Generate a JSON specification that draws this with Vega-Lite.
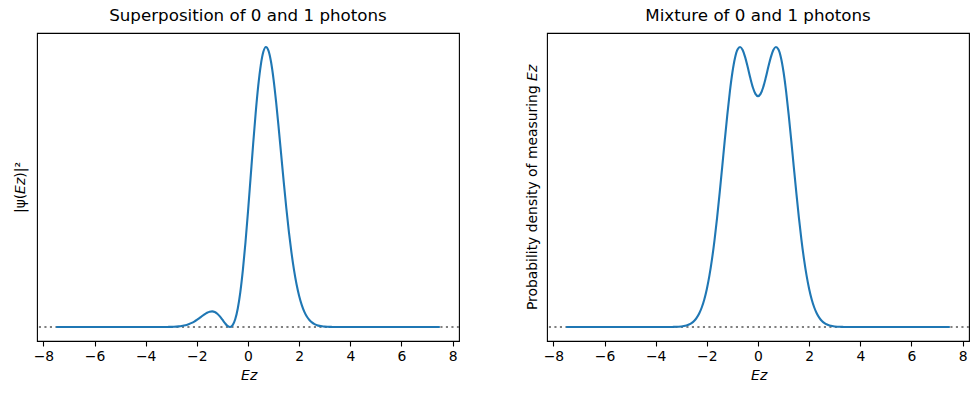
{
  "$schema": "https://vega.github.io/schema/vega-lite/v6.json",
  "background": "white",
  "padding": {"left": 12, "top": 7, "right": 5, "bottom": 8},
  "spacing": 63,
  "config": {
    "font": "DejaVu Sans",
    "view": {"stroke": "black", "strokeWidth": 1.1},
    "axis": {"grid": false, "domain": false, "labelFont": "DejaVu Sans", "labelFontSize": 13.9, "labelColor": "black", "titleFont": "DejaVu Sans", "titleFontSize": 13.9, "titleFontWeight": "normal", "titleColor": "black", "tickColor": "black", "tickSize": 5, "tickWidth": 1.1, "labelPadding": 3},
    "title": {"fontSize": 16.7, "fontWeight": "normal", "color": "black", "offset": 8, "font": "DejaVu Sans"}
  },
  "datasets": {
    "sup": [
      {"x": -7.5, "y": 0}, {"x": -7, "y": 0}, {"x": -6.5, "y": 0}, {"x": -6, "y": 0}, {"x": -5.5, "y": 0}, {"x": -5, "y": 0}, {"x": -4.5, "y": 0}, {"x": -4, "y": 0},
      {"x": -3.5, "y": 0.00008}, {"x": -3.4, "y": 0.00014}, {"x": -3.3, "y": 0.00025}, {"x": -3.2, "y": 0.00044}, {"x": -3.1, "y": 0.00077}, {"x": -3.0, "y": 0.00129},
      {"x": -2.9, "y": 0.00215}, {"x": -2.8, "y": 0.00345}, {"x": -2.7, "y": 0.00542}, {"x": -2.6, "y": 0.00831}, {"x": -2.5, "y": 0.01241}, {"x": -2.4, "y": 0.01806},
      {"x": -2.3, "y": 0.02559}, {"x": -2.2, "y": 0.03525}, {"x": -2.1, "y": 0.04716}, {"x": -2.0, "y": 0.06123}, {"x": -1.9, "y": 0.07699}, {"x": -1.8, "y": 0.09356},
      {"x": -1.7, "y": 0.10958}, {"x": -1.6, "y": 0.12326}, {"x": -1.5, "y": 0.13252}, {"x": -1.4, "y": 0.13525}, {"x": -1.3, "y": 0.12973}, {"x": -1.2, "y": 0.11512},
      {"x": -1.1, "y": 0.09206}, {"x": -1.0, "y": 0.06312}, {"x": -0.9, "y": 0.0331}, {"x": -0.8, "y": 0.0091}, {"x": -0.7, "y": 0.00006}, {"x": -0.6, "y": 0.01601},
      {"x": -0.5, "y": 0.06681}, {"x": -0.4, "y": 0.16074}, {"x": -0.3, "y": 0.30295}, {"x": -0.2, "y": 0.49415}, {"x": -0.1, "y": 0.72983}, {"x": 0, "y": 1},
      {"x": 0.1, "y": 1.28988}, {"x": 0.2, "y": 1.58115}, {"x": 0.3, "y": 1.85393}, {"x": 0.4, "y": 2.08893}, {"x": 0.5, "y": 2.2696}, {"x": 0.6, "y": 2.384},
      {"x": 0.7, "y": 2.42594}, {"x": 0.8, "y": 2.39535}, {"x": 0.9, "y": 2.29795}, {"x": 1.0, "y": 2.14416}, {"x": 1.1, "y": 1.9476}, {"x": 1.2, "y": 1.72344},
      {"x": 1.3, "y": 1.48667}, {"x": 1.4, "y": 1.25079}, {"x": 1.5, "y": 1.02686}, {"x": 1.6, "y": 0.82295}, {"x": 1.7, "y": 0.64403}, {"x": 1.8, "y": 0.49234},
      {"x": 1.9, "y": 0.36775}, {"x": 2.0, "y": 0.26846}, {"x": 2.1, "y": 0.19156}, {"x": 2.2, "y": 0.13365}, {"x": 2.3, "y": 0.09119}, {"x": 2.4, "y": 0.06084},
      {"x": 2.5, "y": 0.0397}, {"x": 2.6, "y": 0.02535}, {"x": 2.7, "y": 0.01583}, {"x": 2.8, "y": 0.00969}, {"x": 2.9, "y": 0.0058}, {"x": 3.0, "y": 0.00338},
      {"x": 3.1, "y": 0.00195}, {"x": 3.2, "y": 0.00109}, {"x": 3.3, "y": 0.00059}, {"x": 3.4, "y": 0.00032}, {"x": 3.5, "y": 0.00017},
      {"x": 4, "y": 0}, {"x": 4.5, "y": 0}, {"x": 5, "y": 0}, {"x": 5.5, "y": 0}, {"x": 6, "y": 0}, {"x": 6.5, "y": 0}, {"x": 7, "y": 0}, {"x": 7.5, "y": 0}
    ],
    "mix": [
      {"x": -7.5, "y": 0}, {"x": -7, "y": 0}, {"x": -6.5, "y": 0}, {"x": -6, "y": 0}, {"x": -5.5, "y": 0}, {"x": -5, "y": 0}, {"x": -4.5, "y": 0}, {"x": -4, "y": 0},
      {"x": -3.5, "y": 0.00012}, {"x": -3.4, "y": 0.00023}, {"x": -3.3, "y": 0.00042}, {"x": -3.2, "y": 0.00077}, {"x": -3.1, "y": 0.00136}, {"x": -3.0, "y": 0.00234},
      {"x": -2.9, "y": 0.00397}, {"x": -2.8, "y": 0.00657}, {"x": -2.7, "y": 0.01063}, {"x": -2.6, "y": 0.01683}, {"x": -2.5, "y": 0.02606}, {"x": -2.4, "y": 0.03945},
      {"x": -2.3, "y": 0.05839}, {"x": -2.2, "y": 0.08445}, {"x": -2.1, "y": 0.11936}, {"x": -2.0, "y": 0.16484}, {"x": -1.9, "y": 0.22237}, {"x": -1.8, "y": 0.29295},
      {"x": -1.7, "y": 0.37681}, {"x": -1.6, "y": 0.47311}, {"x": -1.5, "y": 0.57969}, {"x": -1.4, "y": 0.69302}, {"x": -1.3, "y": 0.8082}, {"x": -1.2, "y": 0.91928},
      {"x": -1.1, "y": 1.01983}, {"x": -1.0, "y": 1.10364}, {"x": -0.9, "y": 1.16553}, {"x": -0.8, "y": 1.20223}, {"x": -0.7, "y": 1.213}, {"x": -0.6, "y": 1.2},
      {"x": -0.5, "y": 1.1682}, {"x": -0.4, "y": 1.12483}, {"x": -0.3, "y": 1.07844}, {"x": -0.2, "y": 1.03765}, {"x": -0.1, "y": 1.00985}, {"x": 0, "y": 1},
      {"x": 0.1, "y": 1.00985}, {"x": 0.2, "y": 1.03765}, {"x": 0.3, "y": 1.07844}, {"x": 0.4, "y": 1.12483}, {"x": 0.5, "y": 1.1682}, {"x": 0.6, "y": 1.2},
      {"x": 0.7, "y": 1.213}, {"x": 0.8, "y": 1.20223}, {"x": 0.9, "y": 1.16553}, {"x": 1.0, "y": 1.10364}, {"x": 1.1, "y": 1.01983}, {"x": 1.2, "y": 0.91928},
      {"x": 1.3, "y": 0.8082}, {"x": 1.4, "y": 0.69302}, {"x": 1.5, "y": 0.57969}, {"x": 1.6, "y": 0.47311}, {"x": 1.7, "y": 0.37681}, {"x": 1.8, "y": 0.29295},
      {"x": 1.9, "y": 0.22237}, {"x": 2.0, "y": 0.16484}, {"x": 2.1, "y": 0.11936}, {"x": 2.2, "y": 0.08445}, {"x": 2.3, "y": 0.05839}, {"x": 2.4, "y": 0.03945},
      {"x": 2.5, "y": 0.02606}, {"x": 2.6, "y": 0.01683}, {"x": 2.7, "y": 0.01063}, {"x": 2.8, "y": 0.00657}, {"x": 2.9, "y": 0.00397}, {"x": 3.0, "y": 0.00234},
      {"x": 3.1, "y": 0.00136}, {"x": 3.2, "y": 0.00077}, {"x": 3.3, "y": 0.00042}, {"x": 3.4, "y": 0.00023}, {"x": 3.5, "y": 0.00012},
      {"x": 4, "y": 0}, {"x": 4.5, "y": 0}, {"x": 5, "y": 0}, {"x": 5.5, "y": 0}, {"x": 6, "y": 0}, {"x": 6.5, "y": 0}, {"x": 7, "y": 0}, {"x": 7.5, "y": 0}
    ]
  },
  "hconcat": [
    {
      "title": "Superposition of 0 and 1 photons",
      "width": 422,
      "height": 308,
      "layer": [
        {
          "data": {"values": [{}]},
          "mark": {"type": "rule", "color": "#808080", "strokeDash": [2.1, 3.4], "strokeWidth": 2.1},
          "encoding": {"y": {"datum": 0, "type": "quantitative"}}
        },
        {
          "data": {"name": "sup"},
          "mark": {"type": "line", "color": "#1f77b4", "strokeWidth": 2.1, "interpolate": "monotone"},
          "encoding": {
            "x": {"field": "x", "type": "quantitative", "scale": {"domain": [-8.25, 8.25], "nice": false, "zero": false},
                  "axis": {"values": [-8, -6, -4, -2, 0, 2, 4, 6, 8], "labelExpr": "replace(datum.label, '-', '−')", "title": "𝘌𝘻", "titlePadding": 6}},
            "y": {"field": "y", "type": "quantitative", "scale": {"domain": [-0.1213, 2.5472], "nice": false, "zero": false},
                  "axis": {"labels": false, "ticks": false, "title": "|ψ(𝘌𝘻)|²", "titlePadding": 10}}
          }
        }
      ]
    },
    {
      "title": "Mixture of 0 and 1 photons",
      "width": 422,
      "height": 308,
      "layer": [
        {
          "data": {"values": [{}]},
          "mark": {"type": "rule", "color": "#808080", "strokeDash": [2.1, 3.4], "strokeWidth": 2.1},
          "encoding": {"y": {"datum": 0, "type": "quantitative"}}
        },
        {
          "data": {"name": "mix"},
          "mark": {"type": "line", "color": "#1f77b4", "strokeWidth": 2.1, "interpolate": "monotone"},
          "encoding": {
            "x": {"field": "x", "type": "quantitative", "scale": {"domain": [-8.25, 8.25], "nice": false, "zero": false},
                  "axis": {"values": [-8, -6, -4, -2, 0, 2, 4, 6, 8], "labelExpr": "replace(datum.label, '-', '−')", "title": "𝘌𝘻", "titlePadding": 6}},
            "y": {"field": "y", "type": "quantitative", "scale": {"domain": [-0.06065, 1.27365], "nice": false, "zero": false},
                  "axis": {"labels": false, "ticks": false, "title": "Probability density of measuring 𝘌𝘻", "titlePadding": 8}}
          }
        }
      ]
    }
  ]
}
